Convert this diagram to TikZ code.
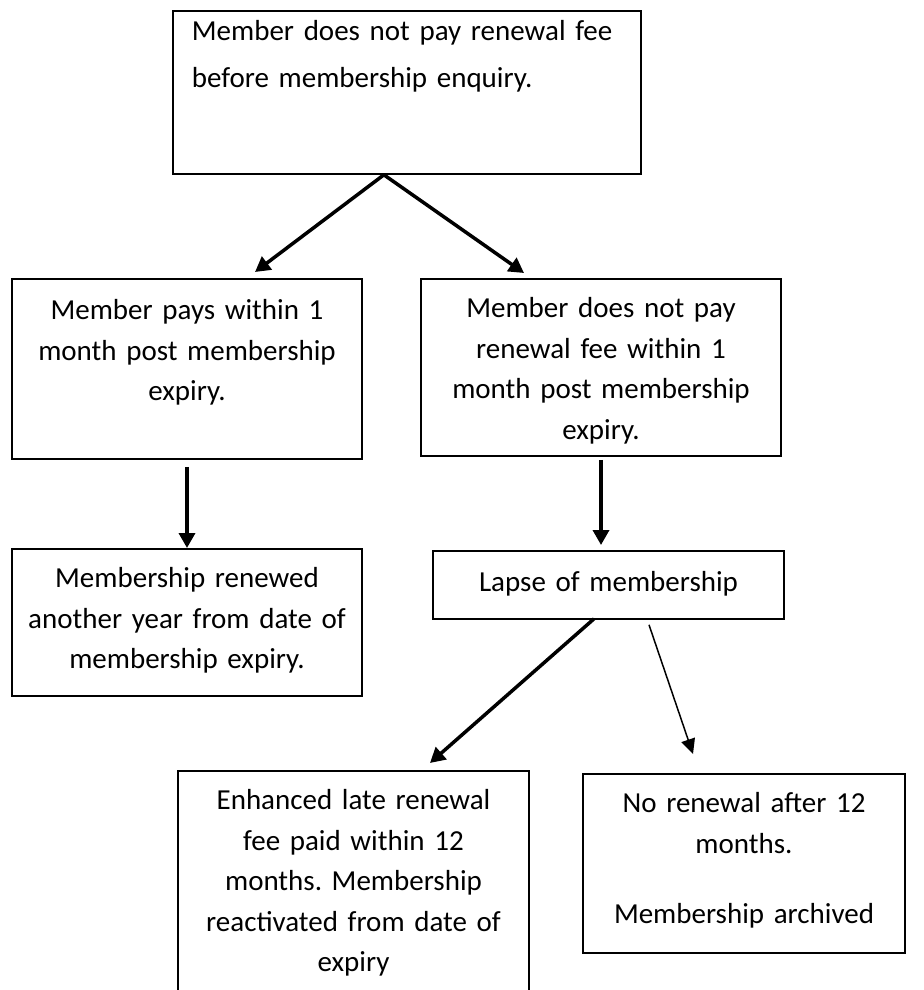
\documentclass[tikz,border=0pt]{standalone}
\usepackage{fontspec}
\setmainfont{Carlito}
\usetikzlibrary{arrows.meta}

\begin{document}
\begin{tikzpicture}[x=0.5pt, y=-0.5pt,
    box/.style={draw, line width=0.9pt, anchor=north, align=center,
      inner xsep=4pt, inner ysep=0pt,
      font=\fontsize{14.5}{20.25}\selectfont\frenchspacing},
    thick arrow/.style={-{Triangle[length=7.5pt, width=8pt]}, line width=1.75pt},
    thin arrow/.style={-{Triangle[length=7.5pt, width=7pt]}, line width=0.75pt}]
    \useasboundingbox (0, 0) rectangle (923, 990);

    \node (enquiry) [box, anchor=north west, align=left, inner xsep=9.5pt,
      text width=215pt, text height=15pt, text depth=66.5pt] at (172, 10) {
        Member does not pay renewal fee\\[3pt]
        before membership enquiry.
    };

    \node (paysearly) [box, text width=167pt, text height=20.5pt,
      text depth=69.5pt] at (187, 278) {
        Member pays within 1\\
        month post membership\\
        expiry.
    };
    \node (paylate) [box, text width=172pt, text height=19.5pt,
      text depth=69pt] at (601, 278) {
        Member does not pay\\
        renewal fee within 1\\
        month post membership\\
        expiry.
    };

    \node (renewed) [box, text width=167pt, text height=19.5pt,
      text depth=54pt] at (187, 548) {
        Membership renewed\\
        another year from date of\\
        membership expiry.
    };
    \node (lapse) [box, text width=167.5pt, text height=20.5pt,
      text depth=13.5pt] at (608.5, 550) {Lapse of membership};

    \node (reactivated) [box, text width=167.5pt, text height=19.5pt,
      text depth=95.5pt] at (353.5, 770) {
        Enhanced late renewal\\
        fee paid within 12\\
        months. Membership\\
        reactivated from date of\\
        expiry
    };
    \node (archived) [box, text width=153pt, text height=19.5pt,
      text depth=70pt] at (744, 773) {
        No renewal after 12\\
        months.\\[15pt]
        Membership archived
    };

    \draw [thick arrow] ([xshift=-11.5pt]enquiry.south)
      -- ([xshift=34pt, yshift=3pt]paysearly.north);
    \draw [thick arrow] ([xshift=-11.5pt]enquiry.south)
      -- ([xshift=-38.5pt, yshift=2.5pt]paylate.north);
    \draw [thick arrow] ([yshift=-3.5pt]paysearly.south) -- (renewed.north);
    \draw [thick arrow] ([yshift=-1.5pt]paylate.south)
      -- ([yshift=2.5pt]paylate.south |- lapse.north);
    \draw [thick arrow] ([xshift=-7.25pt, yshift=0.5pt]lapse.south)
      -- ([xshift=38.25pt, yshift=3.5pt]reactivated.north);
    \draw [thin arrow] ([xshift=20.25pt, yshift=-2.5pt]lapse.south)
      -- ([xshift=-25.5pt, yshift=9.5pt]archived.north);
\end{tikzpicture}
\end{document}
